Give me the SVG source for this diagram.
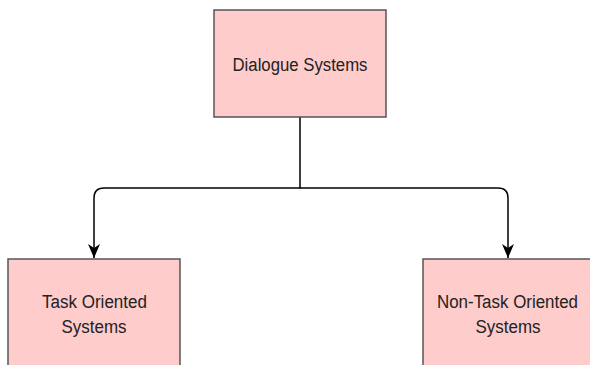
<svg xmlns="http://www.w3.org/2000/svg" width="590" height="365" viewBox="0 0 590 365">
<style>
.box{fill:#ffcccc;stroke:#555555;stroke-width:1.5}
.lbl{font-family:"Liberation Sans",Arial,sans-serif;font-size:18px;fill:#222222;text-anchor:middle}
.edge{fill:none;stroke:#000000;stroke-width:1.5}
</style>
<defs>
<marker id="arr" viewBox="0 0 12 14" refX="6" refY="14" markerWidth="12" markerHeight="14" markerUnits="userSpaceOnUse" orient="0">
<path d="M0,0 L6,4 L12,0 L6,14 Z" fill="#000"/>
</marker>
</defs>
<rect width="590" height="365" fill="#ffffff"/>
<g id="edges">
<path class="edge" d="M300,117 V188 H104 Q94,188 94,198 V258" marker-end="url(#arr)"/>
<path class="edge" d="M300,188 H498 Q508,188 508,198 V258" marker-end="url(#arr)"/>
</g>
<g id="dialogue">
<rect class="box" x="214" y="10" width="172" height="107"/>
<text class="lbl" x="300" y="71" textLength="135" lengthAdjust="spacingAndGlyphs">Dialogue Systems</text>
</g>
<g id="task">
<rect class="box" x="8" y="259" width="172" height="120"/>
<text class="lbl" x="94.5" y="308" textLength="105" lengthAdjust="spacingAndGlyphs">Task Oriented</text>
<text class="lbl" x="94" y="333" textLength="65" lengthAdjust="spacingAndGlyphs">Systems</text>
</g>
<g id="nontask">
<rect class="box" x="423" y="259" width="172" height="120"/>
<text class="lbl" x="507.5" y="308" textLength="141" lengthAdjust="spacingAndGlyphs">Non-Task Oriented</text>
<text class="lbl" x="508" y="333" textLength="65" lengthAdjust="spacingAndGlyphs">Systems</text>
</g>
</svg>
